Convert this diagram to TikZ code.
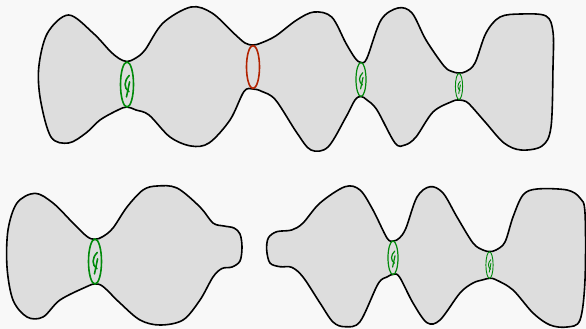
\documentclass[tikz,border=0pt]{standalone}
\usepackage{tikz}
\definecolor{bgc}{RGB}{248,248,248}
\definecolor{fillc}{RGB}{221,221,221}
\definecolor{ringgreen}{RGB}{0,138,10}
\definecolor{ringred}{RGB}{178,34,0}
\tikzset{
  blob/.style={draw=black, fill=fillc, line width=1.6pt, line join=round},
  gring/.style={draw=ringgreen, line width=#1},
  rring/.style={draw=ringred, line width=1.6pt},
}
\newcommand\phiring[5]{%
  \begin{scope}[shift={(#1,#2)}]
    \draw[gring=#5] (0,0) ellipse [x radius=#3, y radius=#4];
    \begin{scope}[xscale=#3, yscale=#4]
      \draw[gring=#5, line cap=round] (0.35,-0.4) .. controls (-0.5,-0.15) and (-0.5,0.15) .. (0.3,0.32);
      \draw[gring=#5, line cap=round] (0.4,-0.12) -- (-0.08,0.55);
    \end{scope}
  \end{scope}}
\begin{document}
\begin{tikzpicture}[x=1pt,y=-1pt]
\fill[bgc] (0,0) rectangle (586,329);
\useasboundingbox (0,0) rectangle (586,329);

% top long shape
\draw[blob] plot[smooth cycle, tension=0.55] coordinates {
 (68.6,15) (93,33) (110,51) (119,58.5) (127,61.5) (135,58.5) (145,50) (163,23) (191,7) (212,13) (233.5,33) (245,43) (253,45) (261,43)
 (275.6,36) (296.7,20) (314,12) (331.7,17) (345.8,43) (355,58) (361,62.5) (367,58)
 (381,20) (398,8) (412,13) (426,40) (444,66) (452,71.5) (459,73) (466,71.5) (475,63)
 (486,33) (500,17) (521,14) (546,16) (553,32) (553,67) (551,127) (542,146) (521,150) (504,143) (486,123) (472,107) (466,101.5) (459,100) (452,101.5)
 (433,112) (416,137) (405,145) (395,143) (377,110) (367,100) (361,96.5) (355,100)
 (346,117) (328,147) (311,150) (297,133) (275.6,100) (262,91.5) (253,89) (244,91.5)
 (230,120) (209,143) (191,146) (170,137) (149,115) (136,110) (127,107) (118,110)
 (100,120) (86,133) (68.6,143) (51,137) (40.5,100) (38.8,67) (47.5,33)
};

% bottom-left shape
\draw[blob] plot[smooth cycle, tension=0.55] coordinates {
 (35,193.3) (53,203) (73,223) (87,236.5) (95,239.3) (103,236.5) (113,228) (127,207) (143,190) (157,186) (177,188) (200,207) (213,223)
 (224,226) (234,228) (240,234) (242,247) (240,261) (232,267) (222,268.5)
 (213,277) (200,300) (183,320) (160,325) (140,320) (120,303) (103,286.5) (95,284) (87,286.5)
 (60,300) (43,317) (27,317) (13,300) (7,267) (8,230) (17,203)
};

% bottom-right shape
\draw[blob] plot[smooth cycle, tension=0.55] coordinates {
 (291.7,230) (303,223) (320,203) (345,186.7) (360,190) (373,210) (387,238) (393.3,241) (399.5,238)
 (406,228) (417,197) (430,186.7) (443,193) (457,217) (473,243) (483,250) (489.5,251.5) (496,250)
 (505,242) (513,217) (523,195) (537,189) (567,190) (580,198) (585,213) (585,280) (580,320) (567,327) (550,325) (533,313) (513,290) (496,279.8) (489.5,278.3) (483,279.8)
 (473,283) (460,293) (440,320) (427,322.7) (413,303) (399.5,277) (393.3,274.3) (387,277)
 (378,284) (360,321.7) (345,326.7) (333,322) (320,303) (303,277) (291.7,267.3)
 (280,266.7) (270,263) (266.7,250) (268.3,238) (276.7,231.7)
};

% rings
\phiring{127}{84.5}{6.5}{22.5}{1.6pt}
\draw[rring] (253,67) ellipse [x radius=6.5, y radius=21.5];
\phiring{361}{79.5}{5}{17}{1.2pt}
\phiring{459}{86.5}{3.6}{13}{0.9pt}
\phiring{95}{261.5}{6.5}{22.5}{1.6pt}
\phiring{393}{257.8}{5}{16.8}{1.2pt}
\phiring{489.5}{265}{3.6}{13.2}{0.9pt}
\end{tikzpicture}
\end{document}
